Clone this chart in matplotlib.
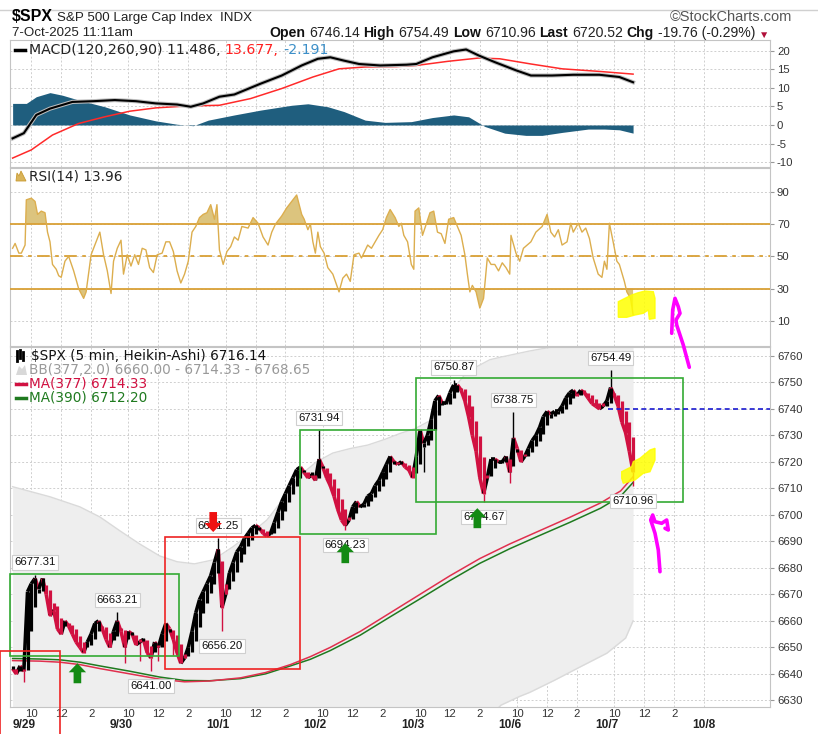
import numpy as np
import matplotlib
matplotlib.use("Agg")
import matplotlib.pyplot as plt
import matplotlib.text as mtext
from matplotlib.transforms import Affine2D, blended_transform_factory
from matplotlib.lines import Line2D
from matplotlib.patches import Rectangle, Polygon
from matplotlib.collections import LineCollection
import matplotlib.patheffects as pe

plt.rcParams['axes.unicode_minus'] = False

# ---------------- data ----------------
day_labels = ['9/29', '9/30', '10/1', '10/2', '10/3', '10/6', '10/7', '10/8']
hour_labels = ['10', '12', '2']
hour_offsets = [6, 30, 54]      # 5-min bars after 9:30
bars_per_day = 78

# Heikin-Ashi closes, one candle per 3 five-minute bars (bar 0 = 9/29 9:30)
candle_bar = list(range(-9, 490, 3))
ha_close = [
    6642, 6640, 6643, 6641, 6671, 6674, 6676, 6672, 6676, 6670,
    6662, 6664, 6657, 6655, 6660, 6658, 6655, 6652, 6650, 6648,
    6652, 6655, 6659, 6660, 6657, 6653, 6650, 6656, 6660, 6656,
    6650, 6656, 6655, 6651, 6652, 6653, 6648, 6646, 6652, 6650,
    6655, 6659, 6657, 6653, 6648, 6644, 6646, 6650, 6656, 6663,
    6668, 6671, 6674, 6677, 6682, 6687, 6665, 6670, 6678, 6682,
    6686, 6688, 6691, 6693, 6695, 6696, 6695, 6693, 6692, 6693,
    6697, 6701, 6705, 6708, 6711, 6714, 6717, 6718, 6716, 6714,
    6715, 6713, 6721, 6718, 6714, 6711, 6707, 6702, 6698, 6696,
    6698, 6703, 6705, 6703, 6704, 6707, 6708, 6711, 6713, 6716,
    6719, 6722, 6720, 6719, 6720, 6718, 6717, 6714, 6722, 6732,
    6727, 6730, 6736, 6743, 6745, 6742, 6742, 6746, 6749, 6749,
    6747, 6743, 6737, 6730, 6724, 6714, 6708, 6714, 6721, 6721,
    6720, 6720, 6722, 6716, 6729, 6725, 6720, 6722, 6725, 6728,
    6730, 6733, 6737, 6739, 6738, 6739, 6739, 6741, 6744, 6746,
    6747, 6745, 6747, 6746, 6744, 6742, 6741, 6740, 6741, 6743,
    6748, 6745, 6741, 6735, 6731, 6724, 6716.14,
]

# wick extremes (bar, price, label side: 'a' above, 'b' below, '' none)
wick_bar = [9, 75, 102, 156, 159, 237, 258, 345, 393, 369, 471, 489,
            0, 81, 93, 108, 120, 321, 390]
wick_price = [6677.31, 6663.21, 6641.00, 6691.25, 6656.20, 6731.94, 6694.23,
              6750.87, 6738.75, 6704.67, 6754.49, 6710.96,
              6637, 6644, 6645, 6645, 6647, 6716, 6712]
wick_side = ['a', 'a', 'b', 'a', 'b', 'a', 'b', 'a', 'a', 'b', 'a', 'b',
             '', '', '', '', '', '', '']

# moving averages
ma_bar = [-9, 13, 29, 45, 61, 85, 109, 129, 149, 174, 194, 214, 230, 246, 270,
          294, 318, 342, 366, 390, 414, 438, 463, 479, 489]
ma377 = [6645.0, 6644.8, 6644.4, 6643.5, 6642, 6640, 6638, 6637, 6637.3, 6638.5,
         6640.5, 6643.5, 6646.5, 6650, 6656, 6663, 6670, 6677, 6683.5, 6689,
         6694, 6699, 6704.5, 6709, 6714.33]
ma390 = [6645.8, 6645.6, 6645.3, 6644.4, 6643, 6641, 6638.8, 6637.5, 6637.4, 6638.2,
         6640, 6643, 6645.5, 6648.8, 6654.6, 6661.5, 6668.3, 6675.2, 6681.7, 6687.2,
         6692.2, 6697.1, 6702.5, 6707, 6712.2]

# Bollinger bands (377, 2.0)
bb_bar = [-9, 21, 45, 61, 77, 93, 109, 123, 137, 152, 168, 182, 195, 210, 222, 235,
          248, 262, 276, 290, 302, 314, 328, 342, 356, 374, 383, 398, 406, 426, 446,
          468, 483, 489]
bb_upper = [6710.6, 6706.8, 6703, 6699.2, 6694, 6689, 6684.5, 6682.3, 6681.5, 6683,
            6688, 6693, 6698, 6707, 6715, 6720, 6723.3, 6725, 6726.3, 6728.5, 6730.7,
            6732.5, 6736, 6746, 6754, 6758.5, 6759.5, 6761, 6761.8, 6763.5, 6765,
            6767, 6768, 6768.65]
bb_lower = [6581, 6583, 6584, 6585, 6587, 6589, 6591, 6592, 6592, 6590, 6586, 6582,
            6579, 6577, 6577, 6580, 6584, 6589, 6594, 6598, 6602, 6606, 6610, 6614,
            6618, 6624, 6628.2, 6631.5, 6633, 6637.6, 6642.5, 6647.8, 6653.5, 6660]

# MACD (120,260,90)
macd_bar = [-9, 0, 10, 21, 39, 56, 73, 90, 106, 123, 134, 144, 157, 169, 190, 207,
            223, 236, 246, 257, 269, 286, 307, 315, 328, 345, 355, 365, 378, 395,
            407, 424, 441, 462, 478, 489]
macd_line = [-3.6, -2.2, 2.7, 4.4, 6.2, 6.4, 6.7, 6.4, 5.8, 5.5, 4.9, 5.8, 7.6, 8.2,
             11.1, 13.3, 16, 17.8, 18.2, 17.3, 16.4, 16, 16.2, 16.4, 18.2, 19.8, 20.3,
             18.7, 16.9, 14.7, 13.3, 13.3, 13.5, 13.5, 12.9, 11.486]
sig_bar = [-9, 6, 23, 44, 65, 85, 106, 131, 157, 182, 207, 232, 253, 274, 299, 315,
           340, 365, 382, 407, 432, 462, 489]
sig_line = [-8.9, -6.7, -2.7, 0.4, 2.2, 3.7, 4.6, 5.1, 5.3, 7.1, 9.8, 12.9, 15.1,
            15.6, 15.7, 16, 17.1, 18, 17.8, 16.4, 15.1, 14.4, 13.677]
hist_bar = [-9, 2, 10, 21, 31, 44, 65, 85, 106, 123, 136, 148, 169, 190, 215, 228,
            244, 257, 274, 290, 311, 328, 345, 357, 370, 386, 403, 416, 432, 453,
            466, 478, 489]
hist_vals = [5.8, 5.8, 7.6, 8.7, 8, 6.7, 4.9, 2.7, 1.1, 0.2, -0.2, 1.3, 2.7, 4, 5.3,
             5.7, 4.9, 3.6, 1.3, 0.7, 0.9, 2, 2.7, 2.2, -0.4, -2.2, -2.8, -2.8, -2,
             -1.1, -1.1, -1.3, -2.191]

# RSI(14)
rsi_bar = [-9, -7, -4, -2, 1, 2, 6, 9, 11, 14, 17, 19, 21, 23, 26, 28, 30, 33, 36, 40,
           44, 48, 50, 54, 58, 61, 64, 67, 70, 72, 75, 78, 80, 83, 86, 89, 92, 95, 98,
           101, 104, 107, 111, 114, 117, 120, 123, 126, 129, 132, 135, 138, 141, 144,
           147, 150, 153, 155, 157, 160, 163, 166, 169, 172, 175, 180, 184, 188, 192,
           196, 199, 202, 207, 211, 215, 219, 223, 225, 228, 230, 232, 234, 236, 238,
           241, 244, 248, 253, 256, 259, 262, 265, 269, 271, 276, 279, 282, 285, 288,
           291, 294, 298, 301, 303, 305, 308, 311, 313, 314, 317, 320, 323, 326, 329,
           332, 335, 338, 341, 345, 348, 351, 354, 356, 358, 360, 363, 366, 369, 372,
           375, 378, 381, 384, 387, 390, 391, 395, 398, 401, 404, 407, 411, 416, 420,
           423, 426, 429, 432, 436, 439, 441, 445, 448, 451, 454, 457, 461, 464, 466,
           468, 470, 473, 476, 478, 482, 484, 487, 489]
rsi_vals = [55, 58, 52, 52, 57, 85, 86, 84, 76, 78, 77, 65, 59, 45, 42, 38, 37, 47, 50,
            41, 30, 24, 28, 51, 59, 65, 51, 41, 27, 47, 55, 60, 39, 51, 44, 51, 45, 55,
            54, 43, 40, 51, 52, 59, 59, 53, 41, 33.5, 39, 47, 65, 68.5, 74, 76, 77, 82,
            73, 82, 54, 45, 53, 56, 62, 60, 68.5, 67.5, 74, 70.5, 62, 57, 65, 70, 75,
            80, 84, 88, 76, 73, 66.5, 70, 59, 52, 65, 56, 52, 43, 39, 28, 36.5, 39,
            34.5, 51, 52, 49, 57, 55, 59, 63, 66.5, 74, 79, 74, 68.5, 70.5, 63, 59, 45,
            42, 78, 80, 63, 70, 77, 78, 65, 64, 58, 73, 74, 68.5, 63, 51, 39, 28, 32,
            28, 18, 24, 49, 45, 45, 41, 46, 43, 39, 63, 52, 47, 55, 57, 59, 65, 68.5,
            76, 65, 62, 66.5, 57, 59, 70.5, 65, 70.5, 65, 67.5, 61, 49, 39, 37, 47, 42,
            70.5, 59, 47, 45, 34.5, 28, 24, 13.96]

# signal arrows (bar, tip price, direction)
sig_arrow_bar = [152, 43, 258, 364]
sig_arrow_price = [6693.5, 6644.0, 6689.3, 6702.5]
sig_arrow_dir = ['down', 'up', 'up', 'up']

# annotation boxes (bar0, bar1, price_lo, price_hi, colour)
box_bar0 = [-11.1, -19.1, 113.3, 221.7, 314.8]
box_bar1 = [124.6, 29.1, 221.7, 330.8, 529.1]
box_lo = [6646.8, 6600.0, 6641.7, 6692.6, 6704.9]
box_hi = [6677.6, 6648.7, 6691.5, 6732.0, 6751.5]
box_col = ['#33aa33', '#ee2222', '#ee2222', '#33aa33', '#33aa33']

# ---------------- figure ----------------
W, H = 818, 734
fig = plt.figure(figsize=(W / 100, H / 100), dpi=100)
px = Affine2D().scale(1 / W, -1 / H).translate(0, 1) + fig.transFigure

L, R = 10, 770
def axbox(top, bot):
    return [L / W, 1 - bot / H, (R - L) / W, (bot - top) / H]

ax_m = fig.add_axes(axbox(40, 167))
ax_r = fig.add_axes(axbox(168, 346))
ax_p = fig.add_axes(axbox(347, 707))

XL = (-11.1, 598.9)
xt = [bars_per_day * d + o for d in range(7) for o in hour_offsets]
xtl = [hour_labels[i % 3] for i in range(len(xt))]
GRID = dict(color='#cfcfcf', lw=0.7, ls=(0, (2, 2)))
AXFONT = ['Liberation Sans', 'DejaVu Sans']

for ax in (ax_m, ax_r, ax_p):
    ax.set_xlim(*XL)
    for s in ax.spines.values():
        s.set_color('#c4c4c4')
        s.set_linewidth(0.8)
    ax.yaxis.tick_right()
    ax.tick_params(axis='y', length=3, color='#999999', labelsize=8.2, pad=2,
                   labelcolor='#333333')
    ax.set_xticks(xt + [bars_per_day * 7])
    ax.grid(True, **GRID)
    ax.set_axisbelow(True)

for ax in (ax_m, ax_r):
    ax.tick_params(axis='x', length=0, labelbottom=False)

# ---- MACD panel ----
ax_m.set_ylim(-11.3, 22.85)
ax_m.set_yticks([-10, -5, 0, 5, 10, 15, 20])
ax_m.fill_between(hist_bar, 0, hist_vals, color='#1f5e7e', lw=0, zorder=2)
ax_m.plot(sig_bar, sig_line, color='#ff2a2a', lw=1.1, zorder=3)
ax_m.plot(macd_bar, macd_line, color='black', lw=1.5, zorder=4,
          path_effects=[pe.Stroke(linewidth=3.0, foreground='#bdbdbd'), pe.Normal()])

# ---- RSI panel ----
RSI_C = '#dcae4e'
LINE_C = '#d9a035'
ax_r.set_ylim(-5.5, 104.7)
ax_r.set_yticks([10, 30, 50, 70, 90])
rb = np.array(rsi_bar, float)
rv = np.array(rsi_vals, float)
ax_r.fill_between(rb, rv, 70, where=rv >= 70, interpolate=True, color='#dcc47e', lw=0, zorder=2)
ax_r.fill_between(rb, rv, 30, where=rv <= 30, interpolate=True, color='#dcc47e', lw=0, zorder=2)
ax_r.axhline(70, color=LINE_C, lw=1.3, zorder=3)
ax_r.axhline(30, color=LINE_C, lw=1.3, zorder=3)
ax_r.axhline(50, color=LINE_C, lw=1.3, ls=(0, (7, 3, 2, 3)), zorder=3)
ax_r.plot(rb, rv, color=RSI_C, lw=1.0, zorder=4)

# ---- Price panel ----
ax_p.set_ylim(6627.5, 6763.3)
ax_p.set_yticks(np.arange(6630, 6761, 10))
ax_p.fill_between(bb_bar, bb_lower, bb_upper, color='#eeeeee', lw=0, zorder=1)
ax_p.plot(bb_bar, bb_upper, color='#dadada', lw=1.0, zorder=1.5)
ax_p.plot(bb_bar, bb_lower, color='#dadada', lw=1.0, zorder=1.5)
CRIMSON = '#d11141'
ax_p.plot(ma_bar, ma390, color='#1f7a1f', lw=1.1, zorder=3)
ax_p.plot(ma_bar, ma377, color='#e0304e', lw=1.1, zorder=3)

cb = np.array(candle_bar, float)
cl = np.array(ha_close, float)
# Heikin-Ashi open: midpoint of previous candle's body
op = np.empty_like(cl)
op[0] = cl[0]
for i in range(1, len(cl)):
    op[i] = (op[i - 1] + cl[i - 1]) / 2.0
up = cl >= op
lo = np.minimum(op, cl)
hi = np.maximum(np.maximum(op, cl), lo + 1.0)

# connecting path between consecutive candles (dense 5-min look)
segs = [[(cb[i - 1], cl[i - 1]), (cb[i], cl[i])] for i in range(1, len(cb))]
seg_col = ['black' if cl[i] >= cl[i - 1] else CRIMSON for i in range(1, len(cb))]
ax_p.add_collection(LineCollection(segs, colors=seg_col, linewidths=2.6, zorder=4.8,
                                   capstyle='butt'))
ax_p.vlines(cb[up], lo[up], hi[up], color='black', lw=2.3, zorder=5)
ax_p.vlines(cb[~up], lo[~up], hi[~up], color=CRIMSON, lw=2.3, zorder=5)

for b, p, s in zip(wick_bar, wick_price, wick_side):
    k = int(np.argmin(np.abs(cb - b)))
    if p > hi[k]:
        ax_p.vlines(cb[k], hi[k], p, color='black', lw=1.0, zorder=4.5)
    else:
        ax_p.vlines(cb[k], p, lo[k], color='black' if up[k] else CRIMSON, lw=1.0, zorder=4.5)
    if s:
        dy = 12.5 * 0.72 if s == 'a' else -15 * 0.72
        ax_p.annotate(f'{p:.2f}', (cb[k], p), xytext=(0, dy), textcoords='offset points',
                      ha='center', va='center', fontsize=8.2, family=AXFONT, color='#111111',
                      bbox=dict(boxstyle='square,pad=0.18', fc='white', ec='#cfcfcf', lw=0.8),
                      zorder=8)

# boxes
for b0, b1, plo, phi, c in zip(box_bar0, box_bar1, box_lo, box_hi, box_col):
    ax_p.add_patch(Rectangle((b0, plo), b1 - b0, phi - plo, fill=False, ec=c,
                             lw=1.2, zorder=6, clip_on=False))

# blue dashed level
ax_p.hlines(6740, 469, XL[1], colors='#1a1ad0', linestyles=(0, (3, 2)), lw=1.2, zorder=6)

# signal arrows
for b, p, d in zip(sig_arrow_bar, sig_arrow_price, sig_arrow_dir):
    c = '#ee1111' if d == 'down' else '#138a13'
    off = 20 * 0.72 if d == 'down' else -20 * 0.72
    ax_p.annotate('', xy=(b, p), xytext=(0, off), textcoords='offset points',
                  arrowprops=dict(arrowstyle='simple,head_length=0.65,head_width=1.25,tail_width=0.55',
                                  fc=c, ec='none', shrinkA=0, shrinkB=0, mutation_scale=10),
                  zorder=9)

# x labels
ax_p.set_xticklabels(xtl + [''])
ax_p.tick_params(axis='x', length=0, pad=1.5, labelsize=8.2, labelcolor='#333333')
bt = blended_transform_factory(ax_p.transData, ax_p.transAxes)
for d, lab in enumerate(day_labels):
    ax_p.text(bars_per_day * d, -0.05, lab, transform=bt, ha='center', va='center',
              fontsize=8.6, fontweight='bold', family=AXFONT, color='#222222')

for ax in (ax_m, ax_r, ax_p):
    for lab in ax.get_yticklabels() + ax.get_xticklabels():
        lab.set_family(AXFONT)

# ---------------- header & legends ----------------
fig.add_artist(Line2D([0, W], [10, 10], transform=px, color='#d0d0d0', lw=1))
HF = ['Liberation Sans', 'DejaVu Sans']

def chain(x, y, parts, size, family, gap=2.0):
    prev = None
    for txt, kw in parts:
        style = dict(fontsize=size, family=family)
        style.update(kw)
        if prev is None:
            prev = fig.text(x, y, txt, transform=px, ha='left', va='bottom', **style)
        else:
            prev = fig.add_artist(mtext.Annotation(
                txt, xy=(1, 0), xycoords=prev, xytext=(gap, 0), textcoords='offset points',
                ha='left', va='bottom', **style))
    return prev

chain(12, 24, [('$SPX', dict(fontweight='bold', fontsize=11.5)),
               ('S&P 500 Large Cap Index  INDX', dict(color='#222222'))], 9.6, HF, gap=3)
fig.text(792, 17, '©StockCharts.com', transform=px, ha='right', va='center',
         fontsize=10.5, family=HF, color='#555555')
fig.text(12, 33, '7-Oct-2025 11:11am', transform=px, ha='left', va='center',
         fontsize=9.6, family=HF, color='#222222')
B = dict(fontweight='bold', color='#111111')
N = dict(color='#222222')
chain(269, 40, [('Open', B), ('6746.14', N), ('High', B), ('6754.49', N),
                ('Low', B), ('6710.96', N), ('Last', B), ('6720.52', N),
                ('Chg', B), ('-19.76 (-0.29%)', N), ('▼', dict(color='#b0103a', fontsize=7.5))],
      10.1, HF, gap=2.8)

LF = ['DejaVu Sans']
LS = 9.8
# MACD legend
fig.add_artist(Line2D([15, 25], [50, 50], transform=px, color='black', lw=2.5))
chain(29, 57, [('MACD(120,260,90) 11.486,', dict(color='#222222')),
               ('13.677,', dict(color='#ff2020')),
               ('-2.191', dict(color='#3c8fc8'))], 10.2, LF, gap=3)
# RSI legend
fig.add_artist(Polygon([[16, 181], [17, 173], [19, 176], [21, 171], [23, 175], [26, 181]],
                       closed=True, transform=px, fc='#d9b45a', ec='#c99a30', lw=0.6))
fig.text(29, 176.5, 'RSI(14) 13.96', transform=px, ha='left', va='center',
         fontsize=LS, family=LF, color='#222222')
# price legend
for xx, y0, y1, c in [(17, 351, 361, 'black'), (20, 350, 358, 'black'), (23, 352, 360, 'black')]:
    fig.add_artist(Line2D([xx, xx], [y0, y1], transform=px, color=c, lw=2))
fig.text(31, 356, '$SPX (5 min, Heikin-Ashi) 6716.14', transform=px, ha='left',
         va='center', fontsize=LS, family=LF, color='#111111')
fig.add_artist(Polygon([[16, 375], [19, 366], [22, 369], [25, 365], [27, 375]], closed=True,
                       transform=px, fc='#d8d8d8', ec='none'))
fig.text(29, 370, 'BB(377,2.0) 6660.00 - 6714.33 - 6768.65', transform=px, ha='left',
         va='center', fontsize=LS, family=LF, color='#9a9a9a')
fig.add_artist(Line2D([16, 26], [383.5, 383.5], transform=px, color=CRIMSON, lw=2.5))
fig.text(29, 383.5, 'MA(377) 6714.33', transform=px, ha='left', va='center',
         fontsize=LS, family=LF, color=CRIMSON)
fig.add_artist(Line2D([16, 26], [397.5, 397.5], transform=px, color='#1f7a1f', lw=2.5))
fig.text(29, 397.5, 'MA(390) 6712.20', transform=px, ha='left', va='center',
         fontsize=LS, family=LF, color='#1f7a1f')

# ---------------- hand-drawn marks ----------------
yel1 = [(618.3, 301.7), (625, 298.3), (631.7, 295), (638.3, 292.7), (645, 291),
        (653.3, 291.7), (655, 298.3), (655, 318.3), (649.3, 319.3), (648.3, 310),
        (643.3, 313.3), (635, 315), (626.7, 317.3), (618.3, 317.3)]
yel2 = [(621.7, 471.7), (631.7, 466.7), (633.3, 461.7), (640, 458.3), (650, 450),
        (655, 448.3), (655, 460), (650, 471.7), (643.3, 473.3), (635, 480),
        (623.3, 483.3), (621.7, 478.3)]
for poly in (yel1, yel2):
    fig.add_artist(Polygon(poly, closed=True, transform=px, fc='#ffff00', ec='#ffff00',
                           lw=1, alpha=0.85, zorder=20))
mag1 = [(671.7, 333.3), (672.7, 310), (675, 298.3), (678.3, 306.7), (680, 313.3),
        (676, 320), (676.7, 325), (683.3, 345), (689.3, 367.3)]
mag2 = [(660, 571.7), (658.3, 550), (655, 533.3), (650.7, 520), (652.7, 515),
        (655, 521.7), (661.7, 523.3), (666.7, 520), (668.3, 530), (665, 528.3)]
for m in (mag1, mag2):
    xs, ys = zip(*m)
    fig.add_artist(Line2D(xs, ys, transform=px, color='#ff00ff', lw=2.6,
                          solid_capstyle='round', solid_joinstyle='round', zorder=21))

fig.savefig('out.png', dpi=100)
